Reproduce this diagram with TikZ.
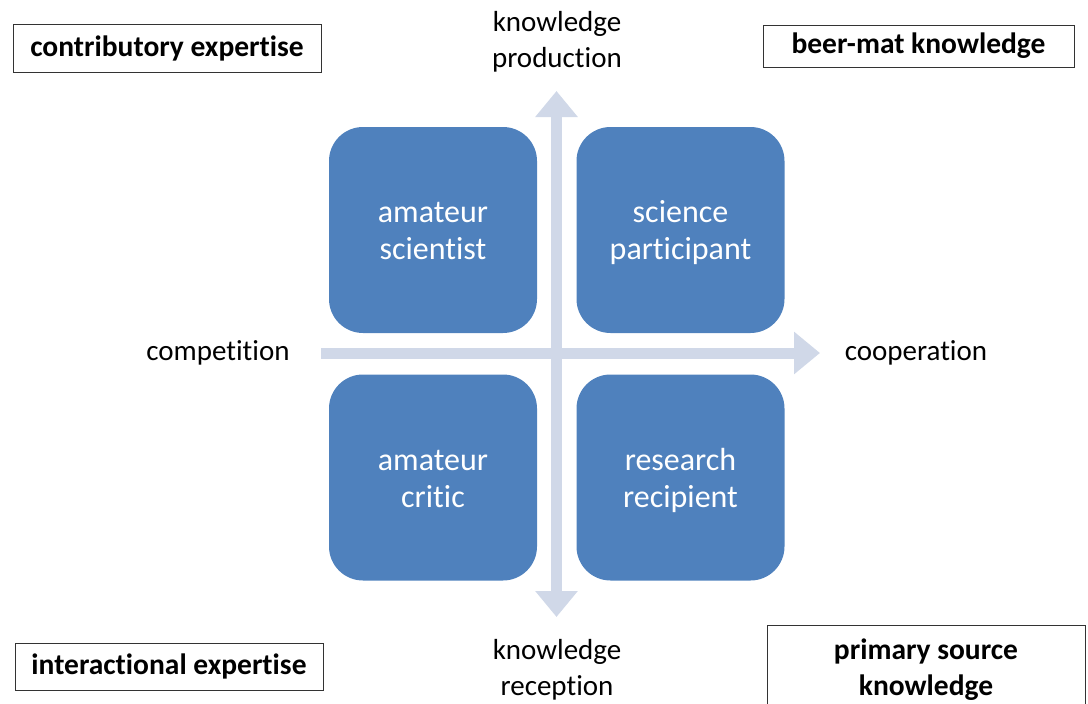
\documentclass[tikz,border=0pt]{standalone}
\usepackage{fontspec}
\setmainfont[Ligatures=NoCommon]{Carlito}
\usetikzlibrary{arrows.meta}
\definecolor{boxblue}{HTML}{4F81BD}
\definecolor{axisblue}{HTML}{D0D8E8}
\tikzset{axtip/.tip={Triangle[width=41pt,length=26pt]}}
\newcommand{\quadtext}[2]{\raisebox{-4pt}[\height][\depth]{\begin{tabular}{@{}c@{}}#1\\[1pt]#2\end{tabular}}}
\begin{document}
\begin{tikzpicture}[x=1pt,y=-1pt,
  quad/.style={draw=none,fill=boxblue,rounded corners=34pt,minimum width=208pt,minimum height=206pt,
    text=white,align=center,font=\fontsize{32}{36}\selectfont,inner sep=0pt},
  axlabel/.style={align=center,font=\fontsize{29}{36}\selectfont,inner sep=0pt},
  tag/.style={draw=black!80,line width=1pt,align=center,font=\fontsize{29.5}{36}\selectfont\bfseries,inner sep=0pt},
  axis/.style={draw=axisblue,line width=11pt,line cap=butt}]
\useasboundingbox (0,0) rectangle (1088,704);
\clip (0,0) rectangle (1088,704);
% quadrant boxes
\node[quad] (as) at (433,230) {\quadtext{amateur}{scientist}};
\node[quad] (sp) at (680.5,230) {\quadtext{science}{participant}};
\node[quad] (ac) at (433,477.5) {\quadtext{amateur}{critic}};
\node[quad] (rr) at (680.5,477.5) {\quadtext{research}{recipient}};
% axes
\coordinate (vtop) at (556.5,91);
\coordinate (vbot) at (556.5,617);
\coordinate (hleft) at (321,353);
\coordinate (hright) at (820,353);
\draw[axis,axtip-axtip] (vbot) -- (vtop);
\draw[axis,-axtip] (hleft) -- (hright);
% axis labels
\node[axlabel] (kp) at (557,42) {knowledge\\production};
\node[axlabel] (kr) at (557,670) {knowledge\\reception};
\node[axlabel] (comp) at (218,353) {competition};
\node[axlabel] (coop) at (916,353) {cooperation};
% corner tags
\node[tag,minimum width=308pt,minimum height=48pt] (ce) at (167,48) {\raisebox{-1pt}{contributory expertise}};
\node[tag,minimum width=311pt,minimum height=42pt] (bm) at (918.5,46) {\raisebox{-1pt}{beer-mat knowledge}};
\node[tag,minimum width=308pt,minimum height=47pt] (ie) at (169,666.5) {\raisebox{-1pt}{interactional expertise}};
\draw[draw=black!80,line width=1pt] (767,712) -- (767,625) -- (1085,625) -- (1085,712);
\node[align=center,font=\fontsize{29.5}{36}\selectfont\bfseries,inner sep=0pt] (ps) at (926,670) {primary source\\knowledge};
\end{tikzpicture}
\end{document}
